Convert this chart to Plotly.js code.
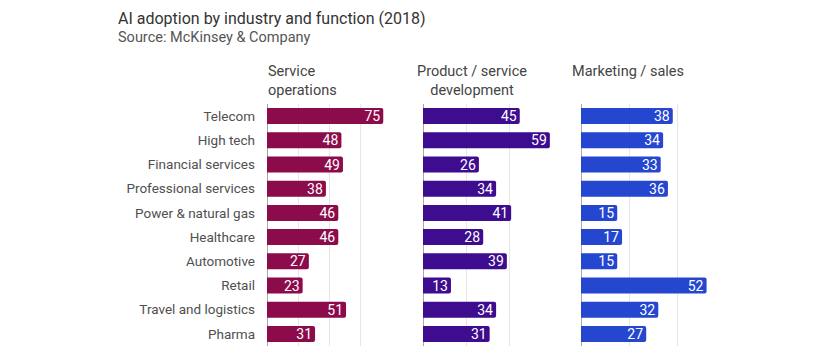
<!DOCTYPE html>
<html><head><meta charset="utf-8">
<script src="https://cdn.plot.ly/plotly-3.0.1.min.js"></script>
<style>html,body{margin:0;padding:0;background:#fff}#c{width:820px;height:359px}</style>
</head><body><div id="c"></div>
<script>
const industries = ["Telecom","High tech","Financial services","Professional services","Power & natural gas","Healthcare","Automotive","Retail","Travel and logistics","Pharma"];
const functions = ["Service<br>operations","Product / service<br>development","Marketing / sales"];
const serviceOps = [75,48,49,38,46,46,27,23,51,31];
const productDev = [45,59,26,34,41,28,39,13,34,31];
const marketing = [38,34,33,36,15,17,15,52,32,27];
const colors = ["#8b0b4b","#3d0c8f","#2546cf"];
const series = [serviceOps, productDev, marketing];

const W = 820, H = 359;
const px = v => v / W;
const py = v => 1 - v / H;

const traces = series.map((vals, i) => ({
  type: 'bar', orientation: 'h',
  x: vals, y: industries,
  xaxis: i === 0 ? 'x' : 'x' + (i + 1), yaxis: 'y',
  marker: {color: colors[i], cornerradius: 2},
  text: vals.map(String), textposition: 'inside', insidetextanchor: 'end',
  textangle: 0, constraintext: 'none',
  textfont: {color: '#ffffff', size: 14, family: 'Roboto, sans-serif'},
  hoverinfo: 'skip', cliponaxis: false
}));

const xbase = {showgrid: true, gridcolor: '#e6e6e6', gridwidth: 1, dtick: 20, showticklabels: false,
  zeroline: true, zerolinecolor: '#a8a8a8', zerolinewidth: 1, fixedrange: true, ticks: ''};

const layout = {
  width: W, height: H, margin: {l: 0, r: 0, t: 0, b: 0},
  paper_bgcolor: '#fff', plot_bgcolor: 'rgba(0,0,0,0)',
  showlegend: false, bargap: 0.34,
  font: {family: 'Roboto, sans-serif', color: '#444'},
  xaxis: Object.assign({}, xbase, {domain: [px(267), px(391)], range: [0, 80], anchor: 'y'}),
  xaxis2: Object.assign({}, xbase, {domain: [px(423), px(552)], range: [0, 60], anchor: 'y'}),
  xaxis3: Object.assign({}, xbase, {domain: [px(581), px(709)], range: [0, 53], anchor: 'y'}),
  yaxis: {domain: [py(346), py(104)], autorange: 'reversed', showgrid: false, zeroline: false,
    ticks: '', ticklabelstandoff: 11, tickfont: {size: 13.5, color: '#505050'}, fixedrange: true},
  annotations: [
    {text: 'AI adoption by industry and function (2018)', x: px(116), y: py(19), xref: 'paper', yref: 'paper',
     xanchor: 'left', yanchor: 'middle', showarrow: false, font: {size: 16, color: '#333'}},
    {text: 'Source: McKinsey & Company', x: px(116), y: py(37), xref: 'paper', yref: 'paper',
     xanchor: 'left', yanchor: 'middle', showarrow: false, font: {size: 14.5, color: '#555'}},
    {text: functions[0], x: px(266), y: py(81), xref: 'paper', yref: 'paper', align: 'left',
     xanchor: 'left', yanchor: 'middle', showarrow: false, font: {size: 14.5, color: '#444'}},
    {text: functions[1], x: px(472), y: py(81), xref: 'paper', yref: 'paper', align: 'center',
     xanchor: 'center', yanchor: 'middle', showarrow: false, font: {size: 14.5, color: '#444'}},
    {text: functions[2], x: px(570), y: py(72), xref: 'paper', yref: 'paper', align: 'left',
     xanchor: 'left', yanchor: 'middle', showarrow: false, font: {size: 14.5, color: '#444'}}
  ]
};
Plotly.newPlot('c', traces, layout, {displayModeBar: false, staticPlot: true});
</script></body></html>
